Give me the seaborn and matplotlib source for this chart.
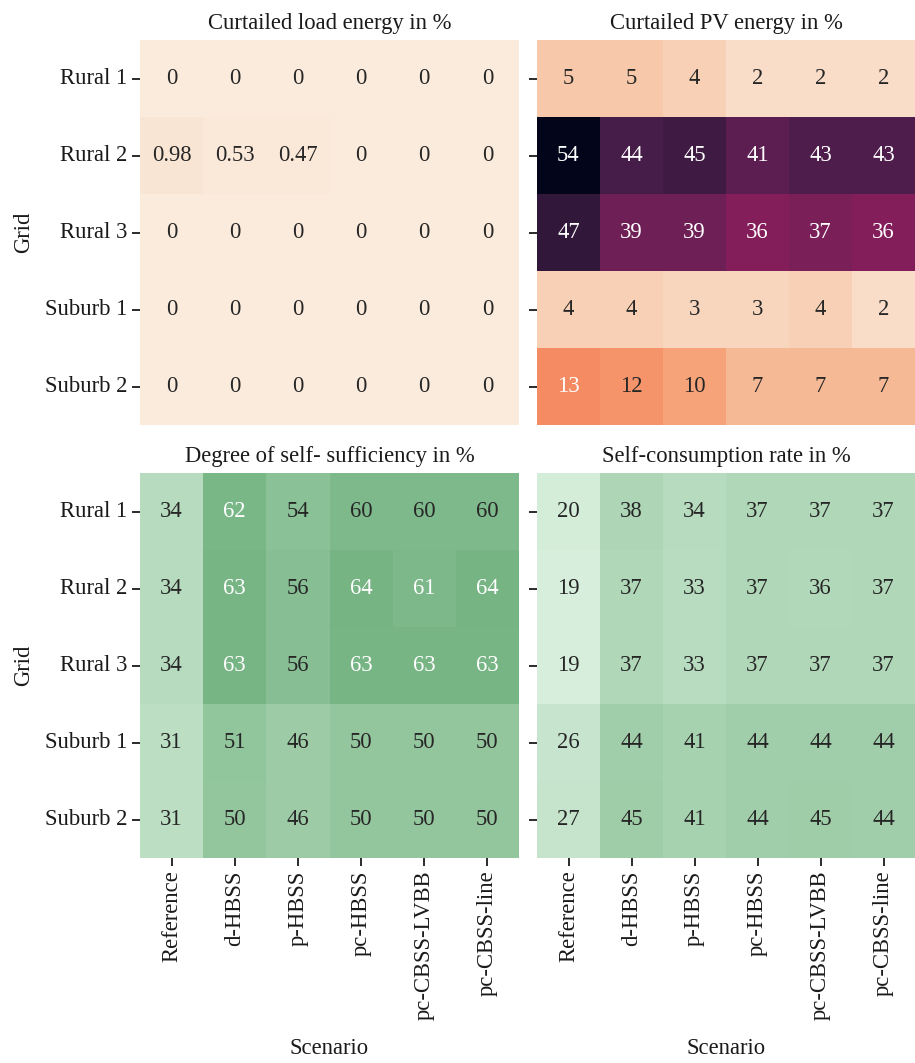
import matplotlib
matplotlib.use("Agg")
import matplotlib.pyplot as plt
from matplotlib.colors import LinearSegmentedColormap
import numpy as np
import pandas as pd
import seaborn as sns

grids = ["Rural 1", "Rural 2", "Rural 3", "Suburb 1", "Suburb 2"]
scenarios = ["Reference", "d-HBSS", "p-HBSS", "pc-HBSS", "pc-CBSS-LVBB", "pc-CBSS-line"]

curtailed_load = [
    [0, 0, 0, 0, 0, 0],
    [0.98, 0.53, 0.47, 0, 0, 0],
    [0, 0, 0, 0, 0, 0],
    [0, 0, 0, 0, 0, 0],
    [0, 0, 0, 0, 0, 0],
]
curtailed_pv = [
    [5, 5, 4, 2, 2, 2],
    [54, 44, 45, 41, 43, 43],
    [47, 39, 39, 36, 37, 36],
    [4, 4, 3, 3, 4, 2],
    [13, 12, 10, 7, 7, 7],
]
self_sufficiency = [
    [34, 62, 54, 60, 60, 60],
    [34, 63, 56, 64, 61, 64],
    [34, 63, 56, 63, 63, 63],
    [31, 51, 46, 50, 50, 50],
    [31, 50, 46, 50, 50, 50],
]
self_consumption = [
    [20, 38, 34, 37, 37, 37],
    [19, 37, 33, 37, 36, 37],
    [19, 37, 33, 37, 37, 37],
    [26, 44, 41, 44, 44, 44],
    [27, 45, 41, 44, 45, 44],
]

titles = [
    "Curtailed load energy in %",
    "Curtailed PV energy in %",
    "Degree of self- sufficiency in %",
    "Self-consumption rate in %",
]

sns.set_theme(style="ticks")
plt.rcParams["font.family"] = ["Liberation Serif", "DejaVu Serif"]
plt.rcParams["text.color"] = "0.1"
plt.rcParams["axes.labelcolor"] = "0.1"
plt.rcParams["xtick.color"] = "0.1"
plt.rcParams["ytick.color"] = "0.1"

FS = 16.3

frames = [pd.DataFrame(d, index=grids, columns=scenarios)
          for d in (curtailed_load, curtailed_pv, self_sufficiency, self_consumption)]

greens = LinearSegmentedColormap.from_list("soft_greens", [(214/255, 238/255, 219/255),
                                                           (118/255, 180/255, 131/255)])

top_vmax = max(np.max(curtailed_pv), np.max(curtailed_load))
bot_vmin = min(np.min(self_sufficiency), np.min(self_consumption))
bot_vmax = max(np.max(self_sufficiency), np.max(self_consumption))

fig = plt.figure(figsize=(9.15, 10.63), dpi=100)
W, H = 915, 1063
boxes = [
    (140, 40, 379, 385),
    (537, 40, 378, 385),
    (140, 473, 379, 385),
    (537, 473, 378, 385),
]
axes = [fig.add_axes([x / W, 1 - (y + h) / H, w / W, h / H]) for x, y, w, h in boxes]

for i, (ax, df) in enumerate(zip(axes, frames)):
    if i < 2:
        cmap, vmin, vmax = "rocket_r", 0, top_vmax
    else:
        cmap, vmin, vmax = greens, bot_vmin, bot_vmax
    sns.heatmap(df, ax=ax, cmap=cmap, vmin=vmin, vmax=vmax, annot=True,
                cbar=False, annot_kws={"fontsize": FS})
    ax.set_title(titles[i], fontsize=FS, pad=8)
    ax.tick_params(axis="both", labelsize=FS, length=5.5, width=1.3)
    ax.set_yticklabels(grids, rotation=0)
    if i % 2 == 1:
        ax.tick_params(axis="y", labelleft=False)
        ax.set_ylabel("")
    else:
        ax.set_ylabel("Grid", fontsize=FS, labelpad=8)
    if i < 2:
        ax.tick_params(axis="x", bottom=False, labelbottom=False)
        ax.set_xlabel("")
    else:
        ax.set_xticklabels(scenarios, rotation=90)
        ax.set_xlabel("Scenario", fontsize=FS, labelpad=13)

fig.savefig("out.png", dpi=100)
